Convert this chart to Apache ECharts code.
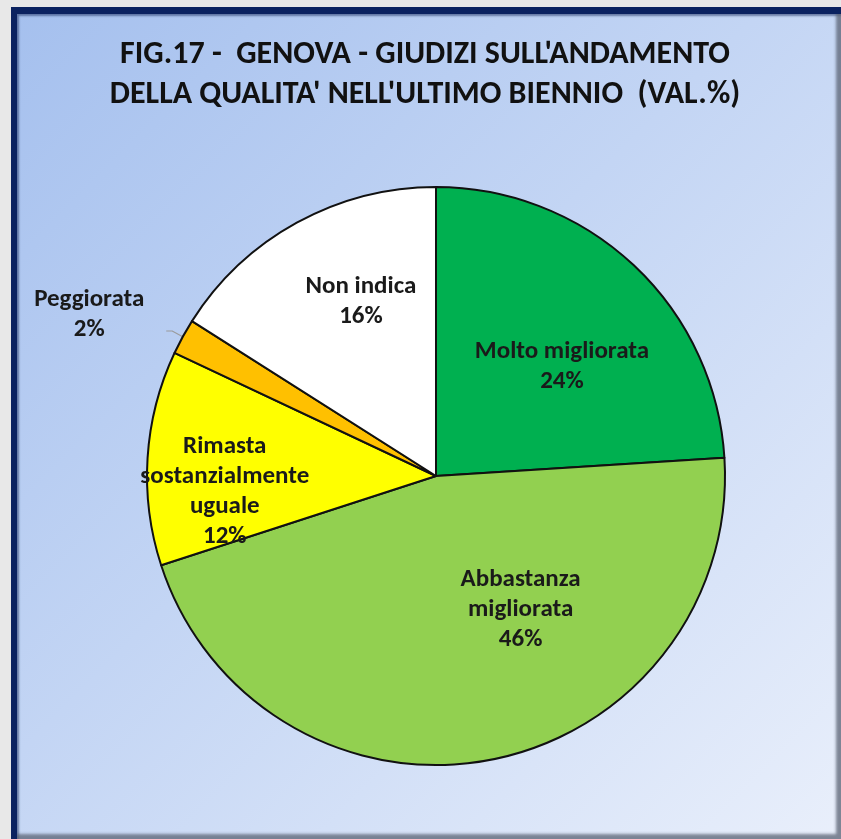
<!DOCTYPE html>
<html>
<head>
<meta charset="utf-8">
<script src="https://cdn.jsdelivr.net/npm/echarts@6/dist/echarts.min.js"></script>
<style>
  html, body { margin: 0; padding: 0; width: 841px; height: 839px; overflow: hidden; background: #e8e8e8; }
  #frame { position: absolute; left: 11px; top: 7px; width: 830px; height: 832px; background: #0b2260; }
  #panel {
    position: absolute; left: 17px; top: 14px; width: 824px; height: 825px;
    background: linear-gradient(135deg, #a5c0ee 0%, #c3d5f4 45%, #e9effb 100%);
    box-shadow: inset -5px -5px 3px rgba(90, 98, 115, 0.75), inset 2px 2px 2px rgba(20, 40, 90, 0.5);
  }
  #chart { position: absolute; left: 0; top: 0; width: 841px; height: 839px; }
</style>
</head>
<body>
<div id="frame"></div>
<div id="panel"></div>
<div id="chart"></div>
<script>
// Giudizi sull'andamento della qualità nell'ultimo biennio (valori %)
const categories = [
  'Molto migliorata',
  'Abbastanza migliorata',
  'Rimasta sostanzialmente uguale',
  'Peggiorata',
  'Non indica'
];
const values = [24, 46, 12, 2, 16];
const labelTexts = [
  'Molto migliorata',
  'Abbastanza\nmigliorata',
  'Rimasta\nsostanzialmente\nuguale',
  'Peggiorata',
  'Non indica'
];
const colors = ['#00b050', '#92d050', '#ffff00', '#ffc000', '#ffffff'];
// label nudges relative to the default inside position
const labelOffsets = [[25, -2], [57, -11], [-64, 25], null, [-4, -45]];

const FONT = 'Carlito, "Liberation Sans Narrow", Lato, "Noto Sans", sans-serif';
const LABEL_SIZE = 25;

const data = categories.map((name, i) => {
  const item = {
    name: name,
    value: values[i],
    itemStyle: { color: colors[i] },
    label: {
      formatter: labelTexts[i] + '\n' + values[i] + '%'
    }
  };
  if (labelOffsets[i]) {
    item.label.position = 'inside';
    item.label.offset = labelOffsets[i];
  } else {
    item.label.position = 'outside';
    item.label.formatter = '{a|' + labelTexts[i] + '}\n{a|' + values[i] + '%}';
    item.label.rich = { a: { width: 136, align: 'center', fontFamily: FONT, fontWeight: 'bold', fontSize: LABEL_SIZE, lineHeight: 30, color: '#1a1a1a' } };
    item.labelLine = { show: true, length: 12, length2: 6, smooth: false, lineStyle: { color: '#9a9a9a', width: 1.2 } };
  }
  return item;
});

const chart = echarts.init(document.getElementById('chart'), null, { renderer: 'canvas' });
chart.setOption({
  backgroundColor: 'transparent',
  title: {
    text: "FIG.17 -  GENOVA - GIUDIZI SULL'ANDAMENTO\nDELLA QUALITA' NELL'ULTIMO BIENNIO  (VAL.%)",
    left: 420,
    top: 30,
    textAlign: 'center',
    textStyle: {
      fontFamily: FONT,
      fontWeight: 'bold',
      fontSize: 32,
      lineHeight: 40,
      color: '#111'
    }
  },
  series: [{
    type: 'pie',
    center: [436, 476],
    radius: 289,
    startAngle: 90,
    clockwise: true,
    animation: false,
    avoidLabelOverlap: false,
    itemStyle: { borderColor: '#111', borderWidth: 2 },
    label: {
      fontFamily: FONT,
      fontWeight: 'bold',
      fontSize: LABEL_SIZE,
      lineHeight: 30,
      color: '#1a1a1a'
    },
    labelLayout: function (params) {
      if (params.dataIndex === 3) {
        return { dy: -16, dx: -4 };
      }
    },
    emphasis: { disabled: true },
    data: data
  }]
});
</script>
</body>
</html>
